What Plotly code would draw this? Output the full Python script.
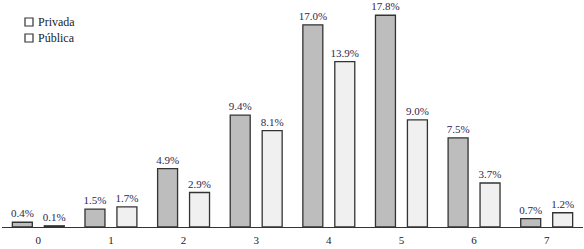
import plotly.graph_objects as go

categories = ["0", "1", "2", "3", "4", "5", "6", "7"]
privada = [0.4, 1.5, 4.9, 9.4, 17.0, 17.8, 7.5, 0.7]
publica = [0.1, 1.7, 2.9, 8.1, 13.9, 9.0, 3.7, 1.2]
series_names = ["Privada", "Pública"]
series_fill = ["#bdbdbd", "#f0f0f0"]

font_family = "Liberation Serif"
label_color = "#2a2850"
W, H = 584, 249
ML, MR, MT, MB = 2, 1, 1, 22

fig = go.Figure()
for name, vals, fill in zip(series_names, [privada, publica], series_fill):
    fig.add_trace(go.Bar(
        x=categories, y=vals, name=name, showlegend=False,
        marker=dict(color=fill, line=dict(color="#333333", width=1.3)),
        text=[f"{v:.1f}%" for v in vals], textposition="outside",
        textfont=dict(family=font_family, size=11, color=label_color),
        constraintext="none", cliponaxis=False,
    ))

# legend drawn as shapes + text (paper coordinates from pixel positions)
def px_x(x):
    return (x - ML) / (W - ML - MR)

def px_y(y):
    return 1 - (y - MT) / (H - MT - MB)

legend_rows = [22, 38]
for name, yc in zip(series_names, legend_rows):
    fig.add_shape(type="rect", xref="paper", yref="paper",
                  x0=px_x(25), x1=px_x(33), y0=px_y(yc + 4), y1=px_y(yc - 4),
                  line=dict(color="#333333", width=1.2), fillcolor="white")
    fig.add_annotation(text=name, xref="paper", yref="paper",
                       x=px_x(36), y=px_y(yc), xanchor="left", yanchor="middle",
                       showarrow=False, font=dict(family=font_family, size=12, color="#222"))

fig.update_layout(
    width=W, height=H,
    margin=dict(l=ML, r=MR, t=MT, b=MB),
    paper_bgcolor="white", plot_bgcolor="white",
    barmode="group", bargap=0.12, bargroupgap=0.375,
    font=dict(family=font_family, size=11, color="#222"),
    showlegend=False,
)
fig.update_xaxes(
    type="category", range=[-0.5, 7.5], showline=True, linecolor="#333",
    linewidth=1, ticks="outside", ticklen=3, tickcolor="rgba(0,0,0,0)",
    showgrid=False, zeroline=False,
    tickfont=dict(family=font_family, size=11, color="#222"),
)
fig.update_yaxes(range=[0, 19], visible=False, showgrid=False, zeroline=False)

fig.write_html("out.html", config={"displayModeBar": False},
               post_script="document.body.style.margin='0';")
